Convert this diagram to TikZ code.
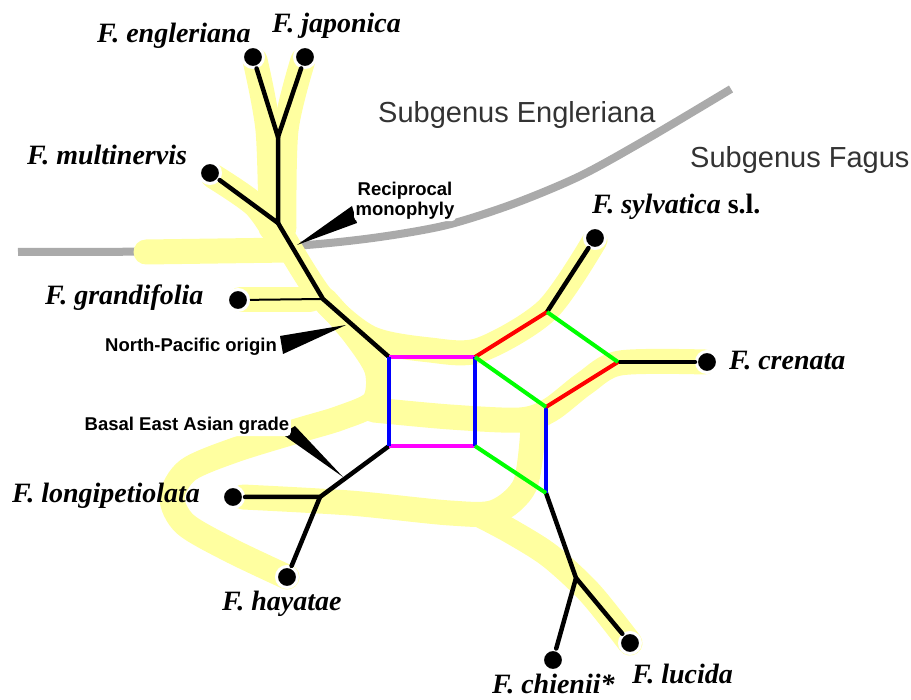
\documentclass[tikz,border=0pt]{standalone}
\usepackage{fontspec}
\setmainfont{Liberation Serif}
\setsansfont{Liberation Sans}
\usepackage{tikz}
\usetikzlibrary{positioning,calc}
\definecolor{hilite}{RGB}{255,255,160}
\definecolor{divider}{RGB}{170,170,170}
\definecolor{netgreen}{RGB}{0,255,0}
\definecolor{netmagenta}{RGB}{255,0,255}

\begin{document}
\begin{tikzpicture}[x=1pt,y=-1pt,
  band/.style={hilite,line width=25pt,line cap=round,line join=round},
  branch/.style={line width=4.5pt,line cap=round,line join=round},
  reticle/.style={line width=4pt},
  taxon/.style={circle,fill=black,draw=white,line width=3pt,minimum size=21pt,inner sep=0pt},
  species/.style={font=\fontsize{28}{30}\selectfont\bfseries\itshape,anchor=base west,inner sep=0pt},
  callout/.style={font=\fontsize{18.5}{20}\selectfont\sffamily\bfseries,fill=white,rounded corners=4pt,inner sep=1.5pt,align=center},
  subgenus/.style={font=\fontsize{29}{31}\selectfont\sffamily,text=black!80,anchor=base west,inner sep=0pt}]
\useasboundingbox (0,0) rectangle (911,700);
% Subgenus divide
\draw[divider,line width=8pt] plot[smooth] coordinates {(18,252) (200,251) (307,245) (380,237) (447,225) (513,204) (580,176) (647,139) (731,89)};
\node[subgenus] (engsub) at (378,123) {Subgenus Engleriana};
\node[subgenus] (fagsub) at (690,168) {Subgenus Fagus};
% Highlighted splits
\draw[band] plot[smooth] coordinates {(255,60) (268,130) (271,228)};
\draw[band] plot[smooth] coordinates {(303,60) (286,130) (284,228)};
\draw[band] plot[smooth] coordinates {(213,176) (255,205) (278,238)};
\draw[band] (146,252) -- (290,250);
\draw[band] (240,300) -- (310,300);
\draw[band] plot[smooth] coordinates {(282,235) (322,298) (370,338) (430,350) (480,350) (547,310) (595,240)};
\draw[band] plot[smooth] coordinates {(325,300) (355,335) (377,370) (374,402) (340,418) (300,430) (235,450) (188,470) (172,497) (185,524) (230,550) (287,577)};
\draw[band] plot[smooth] coordinates {(374,410) (450,417) (520,420) (550,410) (585,383) (620,363) (705,362)};
\draw[band] plot[smooth] coordinates {(243,497) (350,503) (450,513) (495,512) (525,485) (533,428)};
\draw[band] plot[smooth] coordinates {(480,515) (512,532) (550,556) (590,593) (630,643)};
% Taxa
\node[taxon] (engl) at (253,57) {};
\node[taxon] (japo) at (305,57) {};
\node[taxon] (mult) at (210,173) {};
\node[taxon] (gran) at (238,300) {};
\node[taxon] (sylv) at (595,238) {};
\node[taxon] (cren) at (707,362) {};
\node[taxon] (long) at (233,497) {};
\node[taxon] (haya) at (287,577) {};
\node[taxon] (chie) at (553,660) {};
\node[taxon] (luci) at (630,643) {};
% Internal vertices
\coordinate (fork) at (278,137);
\coordinate (root) at (278,223);
\coordinate (grj) at (323,299);
\coordinate (sqa) at (389,357);
\coordinate (sqb) at (475,357);
\coordinate (sqc) at (475,446);
\coordinate (sqd) at (389,446);
\coordinate (rha) at (547,312);
\coordinate (rhb) at (618,362);
\coordinate (rhc) at (546,407);
\coordinate (rhd) at (546,493);
\coordinate (loj) at (320,497);
\coordinate (luj) at (576,578);
% Tree edges
\draw[branch] (engl) -- (fork) -- (japo);
\draw[branch] (fork) -- (root) -- (mult);
\draw[branch] (root) -- (grj) -- (sqa);
\draw[line width=2pt] (gran) -- (grj);
\draw[branch] (sqd) -- (loj) -- (long);
\draw[branch] (loj) -- (haya);
\draw[branch] (rhd) -- (luj) -- (chie);
\draw[branch] (luj) -- (luci);
\draw[branch] (rha) -- (sylv);
\draw[branch] (rhb) -- (cren);
% Network splits
\draw[reticle,netmagenta] (sqa) -- (sqb) (sqd) -- (sqc);
\draw[reticle,blue] (sqa) -- (sqd) (sqb) -- (sqc) (rhc) -- (rhd);
\draw[reticle,red] (sqb) -- (rha) (rhc) -- (rhb);
\draw[reticle,netgreen] (rha) -- (rhb) (sqb) -- (rhc) (sqc) -- (rhd);
% Callouts
\fill (297,245) -- (352,206) -- (357,223) -- cycle;
\node[callout] (recip) at (405,201) {Reciprocal\\monophyly};
\fill (346,325) -- (280,336) -- (283,354) -- cycle;
\node[callout] (npac) at (191,347) {North-Pacific origin};
\fill (343,477) -- (282,434) -- (295,426) -- cycle;
\node[callout] (basal) at (187,426) {Basal East Asian grade};
% Labels
\node[species] (engllab) at (97,43) {F. engleriana};
\node[species] (japolab) at (272,33) {F. japonica};
\node[species] (multlab) at (27,165) {F. multinervis};
\node[species] (sylvlab) at (592,214) {F. sylvatica \textup{s.l.}};
\node[species] (crenlab) at (729,370) {F. crenata};
\node[species] (granlab) at (45,305) {F. grandifolia};
\node[species] (longlab) at (12,503) {F. longipetiolata};
\node[species] (hayalab) at (222,610) {F. hayatae};
\node[species] (chielab) at (492,693) {F. chienii*};
\node[species] (lucilab) at (632,683) {F. lucida};
\end{tikzpicture}
\end{document}
